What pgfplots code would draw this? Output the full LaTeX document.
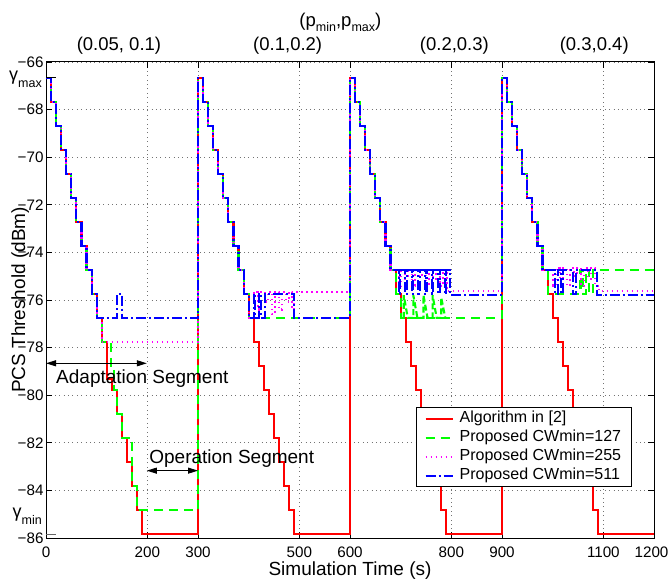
\documentclass[border=0pt]{standalone}
\usepackage{fontspec}
\setmainfont{Liberation Sans}
\usepackage{pgfplots}
\pgfplotsset{compat=1.18}
\usetikzlibrary{arrows.meta}
\definecolor{mred}{RGB}{255,0,0}
\definecolor{mgreen}{RGB}{0,255,0}
\definecolor{mmag}{RGB}{255,0,255}
\definecolor{mblue}{RGB}{0,0,255}
\newcommand{\gsub}[2]{{\fontsize{18}{18}\selectfont #1}\raisebox{-7pt}{\fontsize{12.5}{12.5}\selectfont #2}}
\begin{document}
\begin{tikzpicture}
\useasboundingbox (-46pt,-42pt) rectangle (622pt,538pt);
\begin{axis}[
  at={(0pt,0pt)}, anchor=south west,
  scale only axis, width=608pt, height=476pt,
  xmin=0, xmax=1200, ymin=-86, ymax=-66,
  xtick={0,200,300,500,600,800,900,1100,1200},
  xticklabels={0,200,300,500,600,800,900,1100,{\kern-5pt 1200}},
  ytick={-86,-84,-82,-80,-78,-76,-74,-72,-70,-68,-66},
  yticklabels={−86,−84,−82,−80,−78,−76,−74,−72,−70,−68,−66},
  tick label style={font=\fontsize{15.2}{15.2}\selectfont, black},
  xticklabel style={yshift=-5pt},
  yticklabel style={xshift=1pt},
  grid=major,
  major grid style={line width=0.6pt, color=black!55, dash pattern=on 0.8pt off 3.6pt},
  axis line style={line width=1pt, black},
  tick style={line width=0.8pt, black},
  major tick length=6pt,
  xlabel={Simulation Time (s)},
  ylabel={PCS Threshold (dBm)},
  label style={font=\fontsize{19}{19}\selectfont},
  xlabel style={at={(axis description cs:0.5,-0.0798)}, anchor=base},
  ylabel style={at={(axis description cs:-0.0345,0.5)}, anchor=base},
  clip mode=individual,
  legend style={at={(0.963,0.2746)}, anchor=north east, draw=black, line width=0.8pt, fill=white,
    font=\fontsize{16}{16}\selectfont, inner xsep=8pt, inner ysep=1.5pt, row sep=0pt,
    cells={anchor=west}, nodes={inner sep=2pt, text height=11.5pt, text depth=3.5pt},
    /tikz/every odd column/.append style={column sep=4pt}},
  legend image code/.code={\draw[#1] (0pt,0pt) -- (27pt,0pt);},
  every axis plot/.append style={line width=2.1pt},
]
% Algorithm in [2]
\addplot[const plot, mred, solid] coordinates {
(0,-66.66)(10,-67.67)(20,-68.68)(30,-69.69)(40,-70.70)(50,-71.71)(60,-72.71)(70,-73.72)(80,-74.73)(90,-75.74)(100,-76.75)
(110,-77.76)(120,-79.30)(130,-79.78)(140,-80.79)(150,-81.80)(160,-82.80)(170,-83.81)(180,-84.82)(190,-85.83)
(300,-66.66)(310,-67.67)(320,-68.68)(330,-69.69)(340,-70.70)(350,-71.71)(360,-72.71)(370,-73.72)(380,-74.73)(390,-75.74)(400,-76.75)
(410,-77.76)(420,-78.77)(430,-79.78)(440,-80.79)(450,-81.80)(460,-82.80)(470,-83.81)(480,-84.82)(490,-85.83)
(600,-66.66)(610,-67.67)(620,-68.68)(630,-69.69)(640,-70.70)(650,-71.71)(660,-72.71)(670,-73.72)(680,-74.73)(690,-75.74)(700,-76.75)
(710,-77.76)(720,-78.77)(730,-79.78)(740,-80.79)(750,-81.80)(760,-82.80)(770,-83.81)(780,-84.82)(790,-85.83)
(900,-66.66)(910,-67.67)(920,-68.68)(930,-69.69)(940,-70.70)(950,-71.71)(960,-72.71)(970,-73.72)(980,-74.73)(990,-75.74)(1000,-76.75)
(1010,-77.76)(1020,-78.77)(1030,-79.78)(1040,-80.79)(1050,-81.80)(1060,-82.80)(1070,-83.81)(1080,-84.82)(1090,-85.83)(1200,-85.83)
};
\addlegendentry{Algorithm in [2]}
% CWmin=127
\addplot[const plot, mgreen, dash pattern=on 9pt off 6pt] coordinates {
(0,-66.66)(10,-67.67)(20,-68.68)(30,-69.69)(40,-70.70)(50,-71.71)(60,-72.71)(70,-73.72)(80,-74.73)(90,-75.74)(100,-76.75)
(110,-77.76)(128,-78.77)(134,-79.78)(140,-80.79)(150,-81.80)(170,-83.81)(180,-84.82)
(300,-66.66)(310,-67.67)(320,-68.68)(330,-69.69)(340,-70.70)(350,-71.71)(360,-72.71)(370,-73.72)(380,-74.73)(390,-75.74)(400,-76.75)
(600,-66.66)(610,-67.67)(620,-68.68)(630,-69.69)(640,-70.70)(650,-71.71)(660,-72.71)(670,-73.72)(680,-74.73)(690,-75.74)(700,-76.75)
(900,-66.66)(910,-67.67)(920,-68.68)(930,-69.69)(940,-70.70)(950,-71.71)(960,-72.71)(970,-73.72)(980,-74.73)(990,-75.74)
(1055,-74.73)(1060,-75.74)(1066,-74.73)(1072,-75.74)(1080,-74.73)(1200,-74.73)
};
\addlegendentry{Proposed CWmin=127}
% CWmin=255
\addplot[const plot, mmag, dash pattern=on 1.6pt off 3.4pt] coordinates {
(0,-66.66)(10,-67.67)(20,-68.68)(30,-69.69)(40,-70.70)(50,-71.71)(60,-72.71)(70,-73.72)(80,-74.73)(90,-75.74)(100,-76.75)
(110,-77.76)
(300,-66.66)(310,-67.67)(320,-68.68)(330,-69.69)(340,-70.70)(350,-71.71)(360,-72.71)(370,-73.72)(380,-74.73)(390,-75.74)(400,-76.75)
(410,-75.65)(418,-76.40)(424,-75.65)(432,-76.10)(438,-75.65)(446,-76.60)(452,-75.65)(460,-76.40)(466,-75.65)(474,-76.10)(480,-75.65)(486,-76.40)(490,-75.65)
(600,-66.66)(610,-67.67)(620,-68.68)(630,-69.69)(640,-70.70)(650,-71.71)(660,-72.71)(670,-73.72)(680,-74.73)
(696,-75.40)(700,-74.73)(708,-75.10)(714,-74.73)(722,-75.40)(728,-74.73)(736,-75.00)(742,-74.73)(750,-75.40)(756,-74.73)(764,-75.10)(770,-74.73)(778,-75.40)(784,-74.73)(792,-75.64)
(900,-66.66)(910,-67.67)(920,-68.68)(930,-69.69)(940,-70.70)(950,-71.71)(960,-72.71)(970,-73.72)(980,-74.73)
(1000,-75.40)(1006,-74.66)(1014,-75.10)(1020,-74.66)(1028,-75.40)(1034,-74.66)(1042,-75.00)(1048,-74.66)(1056,-75.40)(1062,-74.66)(1070,-75.10)(1076,-74.66)(1084,-75.40)(1092,-75.64)(1200,-75.64)
};
\addlegendentry{Proposed CWmin=255}
% CWmin=511
\addplot[const plot, mblue, dash pattern=on 10pt off 3pt on 2pt off 3pt] coordinates {
(0,-66.66)(10,-67.67)(20,-68.68)(30,-69.69)(40,-70.70)(50,-71.71)(60,-72.71)(70,-73.72)(80,-74.73)(90,-75.74)(100,-76.75)
(140,-75.74)(150,-76.75)
(300,-66.66)(310,-67.67)(320,-68.68)(330,-69.69)(340,-70.70)(350,-71.71)(360,-72.71)(370,-73.72)(380,-74.73)(390,-75.74)(400,-76.75)
(410,-75.74)(413,-76.75)(420,-75.74)(425,-76.75)(432,-75.74)(490,-76.75)
(600,-66.66)(610,-67.67)(620,-68.68)(630,-69.69)(640,-70.70)(650,-71.71)(660,-72.71)(670,-73.72)(680,-74.73)
(696,-75.74)(699,-74.73)(709,-75.74)(712,-74.73)(722,-75.74)(725,-74.73)(735,-75.74)(738,-74.73)(748,-75.74)(751,-74.73)(761,-75.74)(764,-74.73)(774,-75.74)(777,-74.73)(787,-75.74)(790,-74.73)(798,-75.80)
(900,-66.66)(910,-67.67)(920,-68.68)(930,-69.69)(940,-70.70)(950,-71.71)(960,-72.71)(970,-73.72)(980,-74.73)
(1005,-75.74)(1010,-74.73)(1016,-75.74)(1020,-74.73)(1040,-75.74)(1046,-74.73)(1088,-75.80)(1200,-75.80)
};
\addlegendentry{Proposed CWmin=511}
% green sawtooth in third segment
\addplot[sharp plot, mgreen, dash pattern=on 6pt off 3pt, forget plot] coordinates {
(706,-76.75)(706,-75.80)(714,-76.75)(725,-76.75)(725,-75.80)(733,-76.75)(745,-76.75)(745,-75.80)(753,-76.75)(763,-76.75)(763,-75.80)(771,-76.75)(780,-76.75)(780,-75.90)(788,-76.75)
};
% gamma ticks
\draw[line width=0.8pt, black] (axis cs:0,-66.66) -- ++(10pt,0pt);
\draw[line width=0.8pt, black!60] (axis cs:0,-85.83) -- ++(10pt,0pt);
\node[anchor=base east, inner sep=0pt, xshift=-4pt] at (axis cs:0,-66.78) {\gsub{γ}{max}};
\node[anchor=base east, inner sep=0pt, xshift=-4pt] at (axis cs:0,-85.15) {\gsub{γ}{min}};
% top labels
\node[anchor=base, inner sep=0pt, yshift=11pt, font=\fontsize{18.5}{18.5}\selectfont] at (axis cs:144,-66) {(0.05, 0.1)};
\node[anchor=base, inner sep=0pt, yshift=11pt, font=\fontsize{18.5}{18.5}\selectfont] at (axis cs:477,-66) {(0.1,0.2)};
\node[anchor=base, inner sep=0pt, yshift=11pt, font=\fontsize{18.5}{18.5}\selectfont] at (axis cs:806,-66) {(0.2,0.3)};
\node[anchor=base, inner sep=0pt, yshift=11pt, font=\fontsize{18.5}{18.5}\selectfont] at (axis cs:1082,-66) {(0.3,0.4)};
\node[anchor=base, inner sep=0pt, yshift=35pt, font=\fontsize{18.5}{18.5}\selectfont] at (axis cs:581,-66)
  {(p\raisebox{-5pt}{\fontsize{12.5}{12.5}\selectfont min},p\raisebox{-5pt}{\fontsize{12.5}{12.5}\selectfont max})};
% annotations
\draw[{Triangle[length=10pt,width=6pt]}-{Triangle[length=10pt,width=6pt]}, line width=1pt, black]
  (axis cs:0,-78.66) -- (axis cs:199,-78.66);
\node[anchor=base west, inner sep=0pt, font=\fontsize{19}{19}\selectfont] at (axis cs:19.8,-79.49) {Adaptation Segment};
\draw[{Triangle[length=10pt,width=6pt]}-{Triangle[length=10pt,width=6pt]}, line width=1pt, black]
  (axis cs:199,-83.17) -- (axis cs:300,-83.17);
\node[anchor=base west, inner sep=0pt, font=\fontsize{19}{19}\selectfont] at (axis cs:203.6,-82.86) {Operation Segment};
\end{axis}
\end{tikzpicture}
\end{document}
